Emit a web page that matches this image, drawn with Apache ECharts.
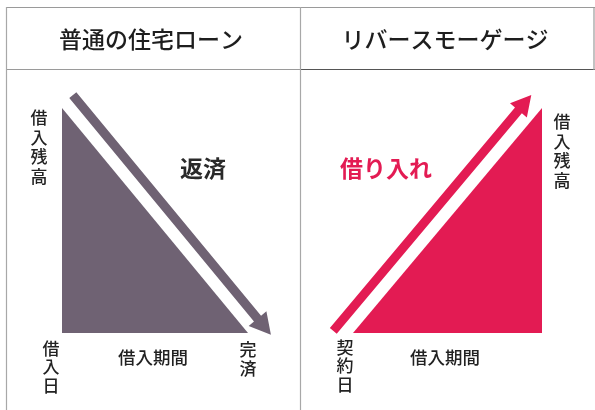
<!DOCTYPE html>
<html><head><meta charset="utf-8">
<script src="https://cdn.jsdelivr.net/npm/echarts@6/dist/echarts.min.js"></script>
<style>html,body{margin:0;padding:0;background:#fff}#c{width:595px;height:410px}</style>
</head><body><div id="c"></div>
<script>
// Data
const panelTitles = ['普通の住宅ローン', 'リバースモーゲージ'];
const periods = [0, 1];               // 借入日/契約日 → 完済
const mortgageBalance = [100, 0];     // 普通の住宅ローン: 借入残高
const reverseBalance = [0, 100];      // リバースモーゲージ: 借入残高
const arrowLabels = ['返済', '借り入れ'];

const GRAY = '#6f6273';
const PINK = '#e31b53';
const FONT = '"Noto Sans CJK JP", "Noto Sans", sans-serif';

const chart = echarts.init(document.getElementById('c'), null, {renderer: 'canvas'});

function arrowItem(cfg) {
  return function (params, api) {
    const p0 = api.coord([api.value(0), api.value(1)]);
    const p1 = api.coord([api.value(2), api.value(3)]);
    const dx = p1[0] - p0[0], dy = p1[1] - p0[1];
    const L = Math.hypot(dx, dy);
    const u = [dx / L, dy / L];
    const n = [u[1], -u[0]];
    const base = [p0[0] + n[0] * cfg.off, p0[1] + n[1] * cfg.off];
    const at = (a, s) => [base[0] + u[0] * a + n[0] * s, base[1] + u[1] * a + n[1] * s];
    const tip = L + cfg.tipExtra;
    const b = tip - cfg.hl;
    const pts = [
      at(cfg.start, cfg.w), at(b, cfg.w), at(b, cfg.hw), at(tip, 0),
      at(b, -cfg.hw), at(b, -cfg.w), at(cfg.start, -cfg.w)
    ];
    return {type: 'polygon', shape: {points: pts}, style: {fill: cfg.color}};
  };
}

function lineEl(x1, y1, x2, y2, color) {
  return {type: 'line', silent: true, shape: {x1, y1, x2, y2}, style: {stroke: color, lineWidth: 1.2}};
}
function txt(text, x, y, size, color, weight, lh) {
  return {type: 'text', silent: true, x, y,
    style: {text, x: 0, y: 0, align: 'center', verticalAlign: 'middle',
      font: (weight || 'normal') + ' ' + size + 'px ' + FONT, fill: color, lineHeight: lh || size}};
}
const vert = s => s.split('').join('\n');

const option = {
  animation: false,
  grid: [
    {left: 62, top: 108, width: 186, height: 225},
    {left: 353, top: 108, width: 189, height: 225}
  ],
  xAxis: [
    {gridIndex: 0, type: 'value', min: 0, max: 1, show: false},
    {gridIndex: 1, type: 'value', min: 0, max: 1, show: false}
  ],
  yAxis: [
    {gridIndex: 0, type: 'value', min: 0, max: 100, show: false},
    {gridIndex: 1, type: 'value', min: 0, max: 100, show: false}
  ],
  series: [
    {type: 'line', xAxisIndex: 0, yAxisIndex: 0, symbol: 'none',
      data: periods.map((p, i) => [p, mortgageBalance[i]]),
      lineStyle: {width: 0}, areaStyle: {color: GRAY, opacity: 1}},
    {type: 'line', xAxisIndex: 1, yAxisIndex: 1, symbol: 'none',
      data: periods.map((p, i) => [p, reverseBalance[i]]),
      lineStyle: {width: 0}, areaStyle: {color: PINK, opacity: 1}},
    {type: 'custom', xAxisIndex: 0, yAxisIndex: 0, clip: false,
      encode: {x: [0, 2], y: [1, 3]},
      data: [[periods[0], mortgageBalance[0], periods[1], mortgageBalance[1]]],
      renderItem: arrowItem({off: 16.5, start: -3, tipExtra: 16, hl: 21, hw: 11.5, w: 4.6, color: GRAY})},
    {type: 'custom', xAxisIndex: 1, yAxisIndex: 1, clip: false,
      encode: {x: [0, 2], y: [1, 3]},
      data: [[periods[0], reverseBalance[0], periods[1], reverseBalance[1]]],
      renderItem: arrowItem({off: 16.5, start: -11, tipExtra: 3, hl: 20, hw: 11, w: 4.5, color: PINK})}
  ],
  graphic: [
    lineEl(6, 7.5, 595, 7.5, '#9a9a9a'),
    lineEl(6, 69.5, 300.5, 69.5, '#9a9a9a'),
    lineEl(300.5, 69.5, 595, 69.5, '#555'),
    lineEl(6.5, 7, 6.5, 410, '#a8a8a8'),
    lineEl(300.5, 7, 300.5, 410, '#a8a8a8'),
    lineEl(594, 7, 594, 70, '#9a9a9a'),
    txt(panelTitles[0], 151, 39, 23, '#1e1e1e', '500'),
    txt(panelTitles[1], 445, 39, 23, '#1e1e1e', '500'),
    txt(vert('借入残高'), 39, 147, 17, '#222', '500', 19.5),
    txt(arrowLabels[0], 203, 168, 23, '#2a2a2a', 'bold'),
    txt(vert('借入日'), 51, 367, 17, '#222', '500', 18.5),
    txt('借入期間', 153, 357, 17.5, '#222', '500'),
    txt(vert('完済'), 248, 359, 17, '#222', '500', 18.5),
    txt(arrowLabels[1], 386, 168, 23, PINK, 'bold'),
    txt(vert('借入残高'), 562, 151, 17, '#222', '500', 19.5),
    txt(vert('契約日'), 345, 366, 17, '#222', '500', 18.5),
    txt('借入期間', 445, 357, 17.5, '#222', '500')
  ]
};
chart.setOption(option);
</script></body></html>
